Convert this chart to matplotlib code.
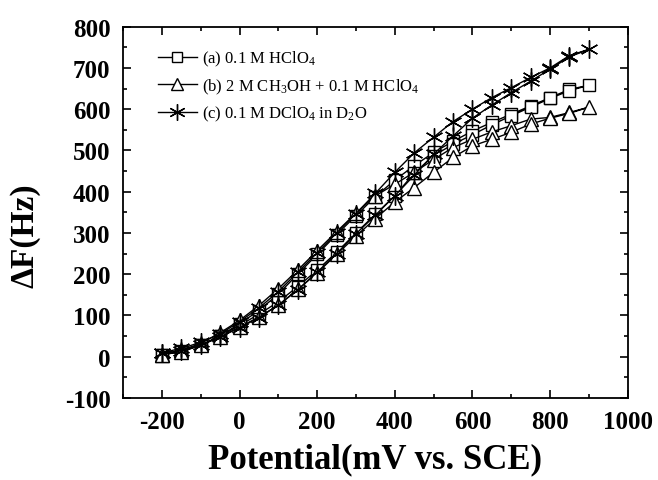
import matplotlib
matplotlib.use('Agg')
import matplotlib.pyplot as plt
from matplotlib.ticker import MultipleLocator
import numpy as np

plt.rcParams['font.family'] = ['Liberation Serif', 'DejaVu Serif']
plt.rcParams['mathtext.fontset'] = 'custom'
plt.rcParams['mathtext.rm'] = 'Liberation Serif'
plt.rcParams['mathtext.it'] = 'Liberation Serif:italic'
plt.rcParams['mathtext.bf'] = 'Liberation Serif:bold'
plt.rcParams['axes.unicode_minus'] = False

# potential sweep (mV vs. SCE): forward -200 -> 900, back 850 -> -200
potential_fwd = [-200, -150, -100, -50, 0, 50, 100, 150, 200, 250, 300, 350,
                 400, 450, 500, 550, 600, 650, 700, 750, 800, 850, 900]
potential_rev = [850, 800, 750, 700, 650, 600, 550, 500, 450, 400, 350, 300,
                 250, 200, 150, 100, 50, 0, -50, -100, -150, -200]

# (a) 0.1 M HClO4
a_fwd = [5, 14, 28, 50, 80, 112, 152, 200, 248, 296, 342, 388,
         428, 463, 495, 522, 547, 568, 588, 608, 628, 648, 658]
a_rev = [645, 626, 605, 584, 562, 538, 515, 487, 445, 390, 345, 300,
         253, 210, 170, 133, 103, 76, 50, 28, 12, 5]

# (b) 2 M CH3OH + 0.1 M HClO4
b_fwd = [5, 16, 32, 58, 88, 124, 165, 210, 257, 303, 348, 390,
         418, 447, 478, 507, 527, 545, 560, 576, 580, 592, 605]
b_rev = [590, 578, 564, 544, 527, 511, 483, 447, 410, 375, 335, 292,
         248, 203, 163, 125, 96, 72, 48, 28, 12, 5]

# (c) 0.1 M DClO4 in D2O
c_fwd = [10, 20, 35, 55, 85, 118, 158, 205, 252, 300, 347, 396,
         447, 494, 532, 570, 600, 628, 652, 677, 700, 730, 745]
c_rev = [727, 697, 668, 640, 610, 578, 535, 491, 440, 390, 343, 298,
         250, 205, 162, 125, 95, 70, 48, 28, 15, 8]

labels = [r'(a) 0.1 M HClO$_4$',
          r'(b) 2 M CH$_3$OH + 0.1 M HClO$_4$',
          r'(c) 0.1 M DClO$_4$ in D$_2$O']

fig = plt.figure(figsize=(6.58, 4.81), dpi=100)
ax = fig.add_axes([0.187, 0.1705, 0.767, 0.772])

x_all = np.concatenate([potential_fwd, potential_rev])
series = [(a_fwd, a_rev, 's', 8.5), (b_fwd, b_rev, '^', 9.5), (c_fwd, c_rev, (6, 2, 0), 13)]
for (fwd, rev, mk, ms), lab in zip(series, labels):
    y_all = np.concatenate([fwd, rev])
    ax.plot(x_all, y_all, color='black', lw=1.0, marker=mk, ms=ms,
            mfc='white', mec='black', mew=1.0, label=lab)

ax.set_xlim(-300, 1000)
ax.set_ylim(-100, 800)
ax.xaxis.set_major_locator(MultipleLocator(200))
ax.xaxis.set_minor_locator(MultipleLocator(100))
ax.yaxis.set_major_locator(MultipleLocator(100))
ax.yaxis.set_minor_locator(MultipleLocator(50))
ax.tick_params(which='both', direction='in', top=True, right=True, width=1.2)
ax.tick_params(which='major', length=6, labelsize=18, pad=9)
ax.tick_params(which='minor', length=3)
for lbl in ax.get_xticklabels() + ax.get_yticklabels():
    lbl.set_fontweight('bold')
for sp in ax.spines.values():
    sp.set_linewidth(1.3)

ax.set_xlabel('Potential(mV vs. SCE)', fontsize=25, fontweight='bold', labelpad=6)
ax.set_ylabel('ΔF(Hz)', fontsize=24, fontweight='bold')
ax.yaxis.set_label_coords(-0.163, 0.44)

ax.legend(loc='upper left', bbox_to_anchor=(0.04, 0.98), frameon=False,
          fontsize=12, handlelength=2.3, handletextpad=0.3, labelspacing=0.5,
          markerscale=0.9)

fig.savefig('out.png', dpi=100)
